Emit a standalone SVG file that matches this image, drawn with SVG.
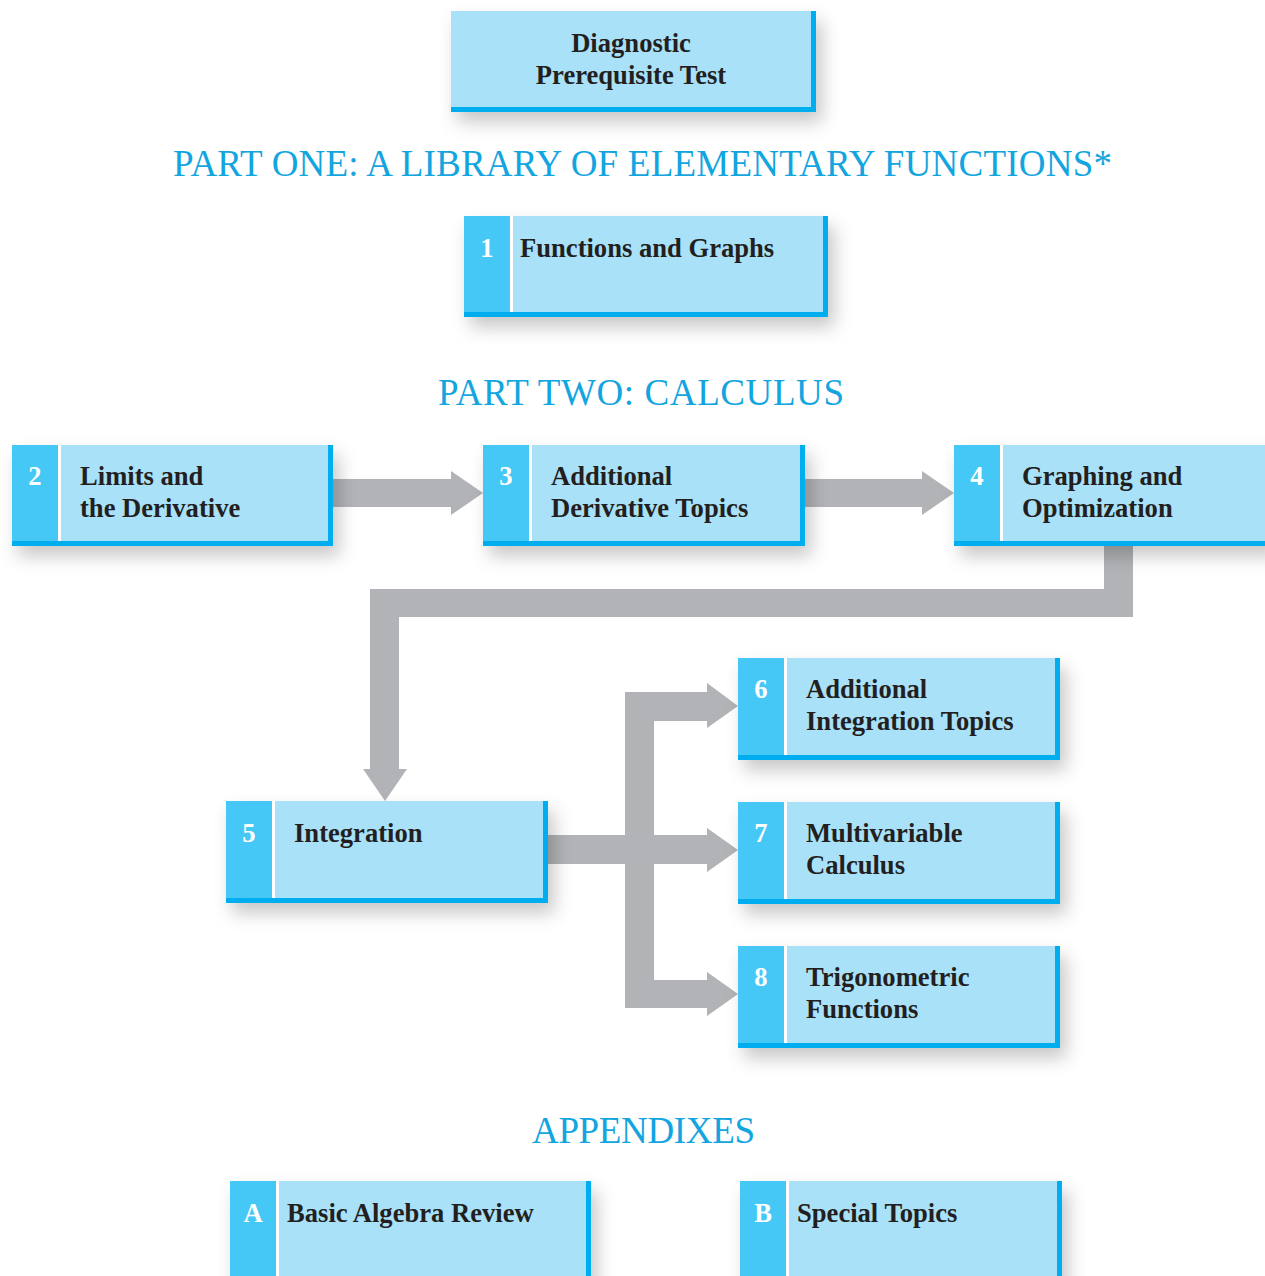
<svg xmlns="http://www.w3.org/2000/svg" width="1265" height="1276" viewBox="0 0 1265 1276">
<defs>
<filter id="sh" x="-20%" y="-30%" width="150%" height="190%">
<feDropShadow dx="6" dy="10" stdDeviation="9" flood-color="#000" flood-opacity="0.22"/>
</filter>
<style>
.fill{fill:#a9e1f9}
.col{fill:#44c8f5}
.gap{fill:#ffffff}
.bd{fill:#00aeef}
.lbl{font-family:"Liberation Serif","Times New Roman",serif;font-weight:bold;font-size:26.6px;fill:#231f20}
.num{font-family:"Liberation Serif","Times New Roman",serif;font-weight:bold;font-size:26.6px;fill:#ffffff;text-anchor:middle}
.head{font-family:"Liberation Serif","Times New Roman",serif;font-size:37px;fill:#12a5e0;text-anchor:middle}
.arr{fill:#b1b3b6}
</style>
</defs>
<rect width="1265" height="1276" fill="#ffffff"/>

<g id="connectors">
<polygon class="arr" points="333,479 451,479 451,471 483,493 451,515 451,507 333,507"/>
<polygon class="arr" points="805,479 922,479 922,471 954,493 922,515 922,507 805,507"/>
<polygon class="arr" points="1104,546 1133,546 1133,617 399,617 399,769 407,769 385,801 363,769 370,769 370,589 1104,589"/>
<polygon class="arr" points="548,835 625,835 625,692 707,692 707,683 738,706 707,728 707,721 654,721 654,835 707,835 707,828 738,850 707,872 707,864 654,864 654,980 707,980 707,972 738,994 707,1016 707,1008 625,1008 625,864 548,864"/>
</g>

<g id="diagnostic">
<g filter="url(#sh)">
<rect class="fill" x="451" y="11" width="365" height="101"/>
<rect class="bd" x="811" y="11" width="5" height="101"/>
<rect class="bd" x="451" y="107" width="365" height="5"/>
</g>
<text class="lbl" x="631" y="52" text-anchor="middle">Diagnostic</text>
<text class="lbl" x="631" y="84" text-anchor="middle">Prerequisite Test</text>
</g>

<text id="part-one" class="head" x="642.5" y="176" textLength="939" lengthAdjust="spacing">PART ONE: A LIBRARY OF ELEMENTARY FUNCTIONS*</text>

<g id="ch1">
<g filter="url(#sh)">
<rect class="fill" x="464" y="216" width="364" height="101"/>
<rect class="col" x="464" y="216" width="46" height="96"/>
<rect class="gap" x="510" y="216" width="3" height="96"/>
<rect class="bd" x="823" y="216" width="5" height="101"/>
<rect class="bd" x="464" y="312" width="364" height="5"/>
</g>
<text class="num" x="487" y="257">1</text>
<text class="lbl" x="520" y="257">Functions and Graphs</text>
</g>

<text id="part-two" class="head" x="641" y="405" textLength="406" lengthAdjust="spacing">PART TWO: CALCULUS</text>

<g id="ch2">
<g filter="url(#sh)">
<rect class="fill" x="12" y="445" width="321" height="101"/>
<rect class="col" x="12" y="445" width="46" height="96"/>
<rect class="gap" x="58" y="445" width="3" height="96"/>
<rect class="bd" x="328" y="445" width="5" height="101"/>
<rect class="bd" x="12" y="541" width="321" height="5"/>
</g>
<text class="num" x="35" y="485">2</text>
<text class="lbl" x="80" y="485">Limits and</text>
<text class="lbl" x="80" y="517">the Derivative</text>
</g>

<g id="ch3">
<g filter="url(#sh)">
<rect class="fill" x="483" y="445" width="322" height="101"/>
<rect class="col" x="483" y="445" width="46" height="96"/>
<rect class="gap" x="529" y="445" width="3" height="96"/>
<rect class="bd" x="800" y="445" width="5" height="101"/>
<rect class="bd" x="483" y="541" width="322" height="5"/>
</g>
<text class="num" x="506" y="485">3</text>
<text class="lbl" x="551" y="485">Additional</text>
<text class="lbl" x="551" y="517">Derivative Topics</text>
</g>

<g id="ch4">
<g filter="url(#sh)">
<rect class="fill" x="954" y="445" width="320" height="101"/>
<rect class="col" x="954" y="445" width="46" height="96"/>
<rect class="gap" x="1000" y="445" width="3" height="96"/>
<rect class="bd" x="954" y="541" width="320" height="5"/>
</g>
<text class="num" x="977" y="485">4</text>
<text class="lbl" x="1022" y="485">Graphing and</text>
<text class="lbl" x="1022" y="517">Optimization</text>
</g>

<g id="ch5">
<g filter="url(#sh)">
<rect class="fill" x="226" y="801" width="322" height="102"/>
<rect class="col" x="226" y="801" width="46" height="97"/>
<rect class="gap" x="272" y="801" width="3" height="97"/>
<rect class="bd" x="543" y="801" width="5" height="102"/>
<rect class="bd" x="226" y="898" width="322" height="5"/>
</g>
<text class="num" x="249" y="842">5</text>
<text class="lbl" x="294" y="842">Integration</text>
</g>

<g id="ch6">
<g filter="url(#sh)">
<rect class="fill" x="738" y="658" width="322" height="102"/>
<rect class="col" x="738" y="658" width="46" height="97"/>
<rect class="gap" x="784" y="658" width="3" height="97"/>
<rect class="bd" x="1055" y="658" width="5" height="102"/>
<rect class="bd" x="738" y="755" width="322" height="5"/>
</g>
<text class="num" x="761" y="698">6</text>
<text class="lbl" x="806" y="698">Additional</text>
<text class="lbl" x="806" y="730">Integration Topics</text>
</g>

<g id="ch7">
<g filter="url(#sh)">
<rect class="fill" x="738" y="802" width="322" height="102"/>
<rect class="col" x="738" y="802" width="46" height="97"/>
<rect class="gap" x="784" y="802" width="3" height="97"/>
<rect class="bd" x="1055" y="802" width="5" height="102"/>
<rect class="bd" x="738" y="899" width="322" height="5"/>
</g>
<text class="num" x="761" y="842">7</text>
<text class="lbl" x="806" y="842">Multivariable</text>
<text class="lbl" x="806" y="874">Calculus</text>
</g>

<g id="ch8">
<g filter="url(#sh)">
<rect class="fill" x="738" y="946" width="322" height="102"/>
<rect class="col" x="738" y="946" width="46" height="97"/>
<rect class="gap" x="784" y="946" width="3" height="97"/>
<rect class="bd" x="1055" y="946" width="5" height="102"/>
<rect class="bd" x="738" y="1043" width="322" height="5"/>
</g>
<text class="num" x="761" y="986">8</text>
<text class="lbl" x="806" y="986">Trigonometric</text>
<text class="lbl" x="806" y="1018">Functions</text>
</g>

<text id="appendixes" class="head" x="643.5" y="1143" textLength="223" lengthAdjust="spacing">APPENDIXES</text>

<g id="appA">
<g filter="url(#sh)">
<rect class="fill" x="230" y="1181" width="361" height="110"/>
<rect class="col" x="230" y="1181" width="46" height="110"/>
<rect class="gap" x="276" y="1181" width="3" height="110"/>
<rect class="bd" x="586" y="1181" width="5" height="110"/>
</g>
<text class="num" x="253" y="1222">A</text>
<text class="lbl" x="287" y="1222">Basic Algebra Review</text>
</g>

<g id="appB">
<g filter="url(#sh)">
<rect class="fill" x="740" y="1181" width="322" height="110"/>
<rect class="col" x="740" y="1181" width="46" height="110"/>
<rect class="gap" x="786" y="1181" width="3" height="110"/>
<rect class="bd" x="1057" y="1181" width="5" height="110"/>
</g>
<text class="num" x="763" y="1222">B</text>
<text class="lbl" x="797" y="1222">Special Topics</text>
</g>
</svg>
